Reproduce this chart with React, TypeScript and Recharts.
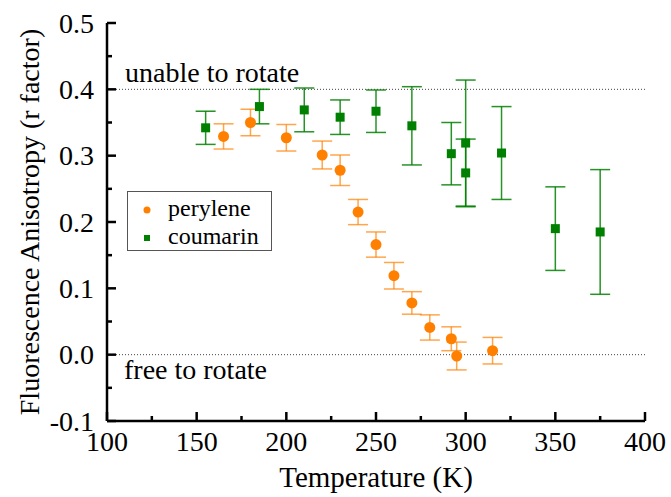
import React from 'react';
import { ScatterChart, Scatter, XAxis, YAxis, ErrorBar, ReferenceLine, Legend, Label } from 'recharts';

// perylene (orange circles)
const peryleneTemp = [165, 180, 200, 220, 230, 240, 250, 260, 270, 280, 292, 295, 315];
const peryleneR = [0.329, 0.35, 0.327, 0.301, 0.278, 0.215, 0.166, 0.119, 0.078, 0.041, 0.024, -0.002, 0.006];
const peryleneErr = [0.019, 0.02, 0.02, 0.021, 0.023, 0.019, 0.019, 0.02, 0.017, 0.019, 0.018, 0.021, 0.02];

// coumarin (green squares)
const coumarinTemp = [155, 185, 210, 230, 250, 270, 292, 300, 300, 320, 350, 375];
const coumarinR = [0.342, 0.374, 0.369, 0.358, 0.367, 0.345, 0.303, 0.319, 0.274, 0.304, 0.19, 0.185];
const coumarinErr = [0.025, 0.026, 0.033, 0.026, 0.032, 0.059, 0.047, 0.095, 0.051, 0.07, 0.063, 0.094];

const xTicks = [100, 125, 150, 175, 200, 225, 250, 275, 300, 325, 350, 375, 400];
const yTicks = [-0.1, -0.05, 0, 0.05, 0.1, 0.15, 0.2, 0.25, 0.3, 0.35, 0.4, 0.45, 0.5];

const perylene = peryleneTemp.map((t, i) => ({ t, r: peryleneR[i], err: peryleneErr[i] }));
const coumarin = coumarinTemp.map((t, i) => ({ t, r: coumarinR[i], err: coumarinErr[i] }));

const FONT = 'Times New Roman, serif';
const ORANGE = '#ff8000';
const GREEN = '#008000';

const isMajorX = (v: number) => v % 50 === 0;
const isMajorY = (v: number) => Math.round(v * 100) % 10 === 0;

const BottomTick = ({ x, y, payload }: any) => {
  const major = isMajorX(payload.value);
  return (
    <g>
      <line x1={x} x2={x} y1={y} y2={y - (major ? 9 : 5)} stroke="#000" strokeWidth={2.5} />
      {major && (
        <text x={x} y={y + 30} textAnchor="middle" fontFamily={FONT} fontSize={28} fill="#000">
          {payload.value}
        </text>
      )}
    </g>
  );
};

const TopTick = ({ x, y, payload }: any) => {
  const major = isMajorX(payload.value);
  return <line x1={x} x2={x} y1={y} y2={y + (major ? 9 : 5)} stroke="#000" strokeWidth={2.5} />;
};

const LeftTick = ({ x, y, payload }: any) => {
  const major = isMajorY(payload.value);
  return (
    <g>
      <line x1={x} x2={x + (major ? 9 : 5)} y1={y} y2={y} stroke="#000" strokeWidth={2.5} />
      {major && (
        <text x={x - 13} y={y} dy="0.35em" textAnchor="end" fontFamily={FONT} fontSize={28} fill="#000">
          {payload.value.toFixed(1)}
        </text>
      )}
    </g>
  );
};

const RightTick = ({ x, y, payload }: any) => {
  const major = isMajorY(payload.value);
  return <line x1={x} x2={x - (major ? 9 : 5)} y1={y} y2={y} stroke="#000" strokeWidth={2.5} />;
};

const LegendBox = () => (
  <div
    style={{
      border: '1px solid #555',
      background: '#fff',
      fontFamily: FONT,
      fontSize: 24,
      color: '#000',
      width: 145,
      height: 60,
      boxSizing: 'border-box',
      paddingTop: 2,
    }}
  >
    <div style={{ display: 'flex', alignItems: 'center', height: 28 }}>
      <svg width={40} height={28}>
        <circle cx={19} cy={16} r={3.5} fill={ORANGE} />
      </svg>
      <span>perylene</span>
    </div>
    <div style={{ display: 'flex', alignItems: 'center', height: 28 }}>
      <svg width={40} height={28}>
        <rect x={16} y={13} width={6} height={6} fill={GREEN} />
      </svg>
      <span>coumarin</span>
    </div>
  </div>
);

export default function App() {
  return (
    <div style={{ position: 'fixed', left: 0, top: 0, width: 671, height: 497, background: '#fff' }}>
      <ScatterChart
        width={671}
        height={497}
        margin={{ top: 23, right: 26, bottom: 36, left: 47 }}
        style={{ fontFamily: FONT }}
      >
        <XAxis
          dataKey="t"
          type="number"
          domain={[100, 400]}
          ticks={xTicks}
          interval={0}
          tickSize={0}
          tickMargin={0}
          tick={<BottomTick />}
          axisLine={{ stroke: '#000', strokeWidth: 2.5 }}
          height={40}
        >
          <Label
            content={({ viewBox }: any) => (
              <text
                x={viewBox.x + viewBox.width / 2}
                y={viewBox.y + 66}
                textAnchor="middle"
                fontFamily={FONT}
                fontSize={29}
                fill="#000"
              >
                Temperature (K)
              </text>
            )}
          />
        </XAxis>
        <XAxis
          xAxisId="top"
          orientation="top"
          type="number"
          domain={[100, 400]}
          ticks={xTicks}
          interval={0}
          tickSize={0}
          tickMargin={0}
          tick={<TopTick />}
          axisLine={{ stroke: '#000', strokeWidth: 2.5 }}
          height={0}
        />
        <YAxis
          dataKey="r"
          type="number"
          domain={[-0.1, 0.5]}
          ticks={yTicks}
          interval={0}
          tickSize={0}
          tickMargin={0}
          tick={<LeftTick />}
          axisLine={{ stroke: '#000', strokeWidth: 2.5 }}
          width={60}
        >
          <Label
            content={({ viewBox }: any) => {
              const cx = viewBox.x - 8;
              const cy = viewBox.y + viewBox.height / 2;
              return (
                <text
                  x={cx}
                  y={cy}
                  transform={`rotate(-90, ${cx}, ${cy})`}
                  textAnchor="middle"
                  fontFamily={FONT}
                  fontSize={28}
                  fill="#000"
                >
                  Fluorescence Anisotropy (r factor)
                </text>
              );
            }}
          />
        </YAxis>
        <YAxis
          yAxisId="right"
          orientation="right"
          type="number"
          domain={[-0.1, 0.5]}
          ticks={yTicks}
          interval={0}
          tickSize={0}
          tickMargin={0}
          tick={<RightTick />}
          axisLine={{ stroke: '#000', strokeWidth: 2.5 }}
          width={0}
        />
        <ReferenceLine
          y={0.4}
          stroke="#444"
          strokeWidth={1}
          strokeDasharray="1 2"
          label={({ viewBox }: any) => (
            <text x={viewBox.x + 18} y={viewBox.y - 7} fontFamily={FONT} fontSize={28} fill="#000">
              unable to rotate
            </text>
          )}
        />
        <ReferenceLine
          y={0}
          stroke="#444"
          strokeWidth={1}
          strokeDasharray="1 2"
          label={({ viewBox }: any) => (
            <text x={viewBox.x + 17} y={viewBox.y + 24} fontFamily={FONT} fontSize={28} fill="#000">
              free to rotate
            </text>
          )}
        />
        <Legend
          layout="vertical"
          align="center"
          verticalAlign="middle"
          wrapperStyle={{ left: 127, top: 191, width: 145, height: 60 }}
          content={<LegendBox />}
        />
        <Scatter
          name="perylene"
          data={perylene}
          isAnimationActive={false}
          shape={(p: any) => <circle cx={p.cx} cy={p.cy} r={5.5} fill={ORANGE} />}
        >
          <ErrorBar
            dataKey="err"
            direction="y"
            width={10}
            stroke={ORANGE}
            strokeOpacity={0.7}
            strokeWidth={1.5}
            isAnimationActive={false}
          />
        </Scatter>
        <Scatter
          name="coumarin"
          data={coumarin}
          isAnimationActive={false}
          shape={(p: any) => <rect x={p.cx - 4.5} y={p.cy - 4.5} width={9} height={9} fill={GREEN} />}
        >
          <ErrorBar
            dataKey="err"
            direction="y"
            width={10}
            stroke={GREEN}
            strokeOpacity={0.85}
            strokeWidth={1.5}
            isAnimationActive={false}
          />
        </Scatter>
      </ScatterChart>
    </div>
  );
}
